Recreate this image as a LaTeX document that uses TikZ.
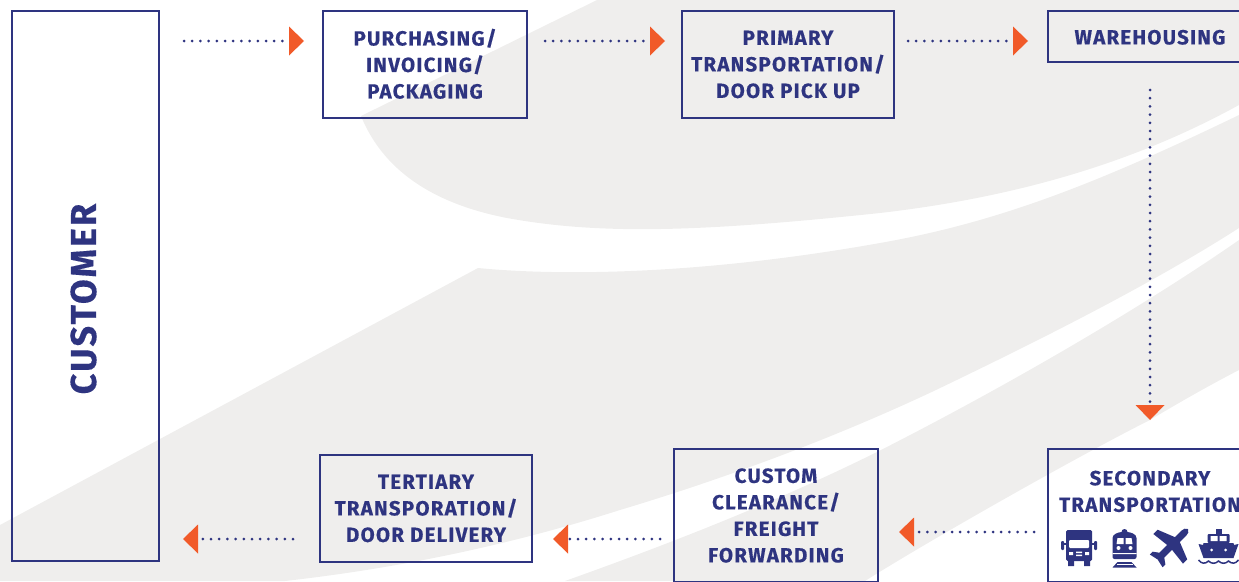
\documentclass[tikz,border=0pt]{standalone}
\usepackage{fontspec}
\usepackage{tikz}
\usetikzlibrary{positioning}
\usetikzlibrary{calc}
\usetikzlibrary{arrows.meta}
\setmainfont{Fira Sans}
\newfontfamily\dinfont[LetterSpace=6,BoldFeatures={FakeBold=0.35}]{Fira Sans}
\definecolor{navy}{HTML}{2E3480}
\definecolor{swoosh}{HTML}{EFEEED}
\definecolor{tipred}{HTML}{F15A29}
\tikzstyle{block} = [draw=navy, line width=2pt, rectangle, outer sep=0pt, inner sep=0pt, anchor=north west]
\tikzstyle{caption} = [text=navy, align=center, inner sep=0pt, font=\dinfont\bfseries\fontsize{20.5}{26.5}\selectfont]
\tikzstyle{flow} = [navy, line width=3pt, line cap=round, dash pattern=on 0pt off 8.2pt, -{Triangle[length=15pt,width=29pt,color=tipred,fill=tipred,line width=0pt]}]
\tikzset{
  truckicon/.pic={
    \fill [rounded corners=1.5pt] (-13,-18) rectangle (13,13);
    \fill (-11,12) rectangle (-5,18) (5,12) rectangle (11,18);
    \fill [rounded corners=1pt] (-18,-7) rectangle (-15,2) (15,-7) rectangle (18,2);
    \fill (-15,-5) rectangle (15,-3);
    \fill [white, rounded corners=1pt] (-10,-8) rectangle (10,0);
    \fill [white] (-10,4) rectangle (-6,7) (6,4) rectangle (10,7) (-3,3.5) rectangle (3,5) (-3,6.5) rectangle (3,8);
  },
  trainicon/.pic={
    \fill [rounded corners=2pt] (-12,11) -- (-12,-8) .. controls (-12,-14) and (-6,-16) .. (0,-16) .. controls (6,-16) and (12,-14) .. (12,-8) -- (12,11) -- cycle;
    \fill (0,-16) circle (3);
    \fill [white] (-7,-10) -- (-1,-10) -- (-1,-4) -- (-8,-4) -- cycle (7,-10) -- (1,-10) -- (1,-4) -- (8,-4) -- cycle;
    \fill [white] (-6,0) circle (2) (6,0) circle (2) (-12,5) rectangle (12,6);
    \fill (-7,14) -- (7,14) -- (12,19.5) -- (-12,19.5) -- cycle;
    \fill [white] (-8,16.2) rectangle (8,17.2);
  },
  planeicon/.pic={
    \fill [rotate=45] (24,0) .. controls (23,-2.5) and (21,-3.5) .. (18,-3.5) -- (9,-3.5) -- (2,-21) -- (-4,-21) -- (-2,-3.5) -- (-13,-3.5) -- (-17,-9) -- (-21,-9) -- (-19,0)
      -- (-21,9) -- (-17,9) -- (-13,3.5) -- (-2,3.5) -- (-4,21) -- (2,21) -- (9,3.5) -- (18,3.5) .. controls (21,3.5) and (23,2.5) .. (24,0) -- cycle;
  },
  shipicon/.pic={
    \fill (-3,-18) rectangle (3,-13);
    \fill [rounded corners=1pt] (-11,-13) rectangle (11,-4);
    \fill [white] (-8,-11) rectangle (-1,-6) (1,-11) rectangle (8,-6);
    \fill (-15,-4) -- (15,-4) -- (16,1) -- (-16,1) -- cycle;
    \fill (-20,-3) -- (0,1) -- (20,-3) -- (15,11) -- (-15,11) -- cycle;
    \fill [white] (-7,3) circle (1.5) (7,3) circle (1.5);
    \draw [line width=1.5pt] (-20,13) .. controls (-17,17) and (-13,17) .. (-10,14) .. controls (-7,17) and (-3,17) .. (0,14) .. controls (3,17) and (7,17) .. (10,14) .. controls (13,17) and (17,17) .. (20,13);
  }
}

\begin{document}
\begin{tikzpicture}[x=1pt,y=-1pt]
    \useasboundingbox (0,0) rectangle (1239,581);
    \clip (0,0) rectangle (1239,581);

    % background swooshes
    \fill [swoosh] (597,0) -- (361,116) .. controls (385,175) and (440,205) .. (507,218) .. controls (600,235) and (700,232) .. (880,213) .. controls (1010,198) and (1130,165) .. (1239,105) -- (1239,0) -- cycle;
    \fill [swoosh] (478,268) .. controls (560,276) and (700,275) .. (880,243) .. controls (1000,222) and (1100,182) .. (1239,115) -- (1239,228)
      .. controls (1150,285) and (1040,340) .. (936,390) .. controls (830,440) and (720,480) .. (620,510) .. controls (510,545) and (400,568) .. (285,581) -- (0,581) -- (0,525) -- cycle;
    \fill [swoosh] (1239,240) .. controls (1150,302) and (1015,382) .. (877,452) .. controls (780,500) and (680,540) .. (565,581) -- (865,581) .. controls (930,540) and (1080,455) .. (1150,420) .. controls (1180,402) and (1210,385) .. (1239,370) -- cycle;

    \node [block, minimum width=147pt, minimum height=550pt] (customer) at (11.5,11) {};
    \node [block, minimum width=204pt, minimum height=107pt, right = 164.5pt of customer.north east, anchor=north west] (purchasing) {};
    \node [block, minimum width=212pt, minimum height=107pt, right = 155pt of purchasing.north east, anchor=north west] (primary) {};
    \node [block, minimum width=204pt, minimum height=51pt, right = 154pt of primary.north east, anchor=north west] (warehousing) {};
    \node [block, minimum width=204pt, minimum height=133pt] (secondary) at (1048,449) {};
    \node [block, minimum width=204pt, minimum height=133pt, left = 170pt of secondary.north west, anchor=north east] (custom) {};
    \node [block, minimum width=212pt, minimum height=107pt] (tertiary) at (320,455) {};

    \node [caption, rotate=90, font=\dinfont\bfseries\fontsize{36}{40}\selectfont] (customertext) at ($(customer.center)+(-1.5,13)$) {CUSTOMER};
    \node [caption] (purchasingtext) at ($(purchasing.center)+(0,-0.7)$) {PURCHASING/\\INVOICING/\\PACKAGING};
    \node [caption] (primarytext) at (primary.center) {PRIMARY\\TRANSPORTATION/\\DOOR PICK UP};
    \node [caption] (warehousingtext) at ($(warehousing.center)+(0,0.8)$) {WAREHOUSING};
    \node [caption] (customtext) at (custom.center) {CUSTOM\\CLEARANCE/\\FREIGHT\\FORWARDING};
    \node [caption] (tertiarytext) at (tertiary.center) {TERTIARY\\TRANSPORATION/\\DOOR DELIVERY};
    \node [caption, below = 21.5pt of secondary.north] (secondarytext) {SECONDARY\\TRANSPORTATION};

    \pic (truck) [navy] at ($(secondary.north)+(-71,99)$) {truckicon};
    \pic (train) [navy] at ($(secondary.north)+(-25.5,99)$) {trainicon};
    \pic (plane) [navy] at ($(secondary.north)+(21,97)$) {planeicon};
    \pic (ship) [navy] at ($(secondary.north)+(68.5,98)$) {shipicon};

    \coordinate (toprow) at (0,41);
    \coordinate (secondrow) at (0,532);
    \coordinate (lowrow) at (0,539);

    \draw [flow, shorten <=25.5pt, shorten >=19pt] (customer.east |- toprow) -- (purchasing.west |- toprow);
    \draw [flow, shorten <=18pt, shorten >=17pt] (purchasing.east |- toprow) -- (primary.west |- toprow);
    \draw [flow, shorten <=14pt, shorten >=20pt] (primary.east |- toprow) -- (warehousing.west |- toprow);
    \draw [flow, shorten <=28pt, shorten >=29pt] (warehousing.south) -- (secondary.north);
    \draw [flow, shorten <=14pt, shorten >=21pt] (secondary.west |- secondrow) -- (custom.east |- secondrow);
    \draw [flow, shorten <=14pt, shorten >=21pt] (custom.west |- lowrow) -- (tertiary.east |- lowrow);
    \draw [flow, shorten <=27pt, shorten >=24.5pt] (tertiary.west |- lowrow) -- (customer.east |- lowrow);
\end{tikzpicture}
\end{document}
